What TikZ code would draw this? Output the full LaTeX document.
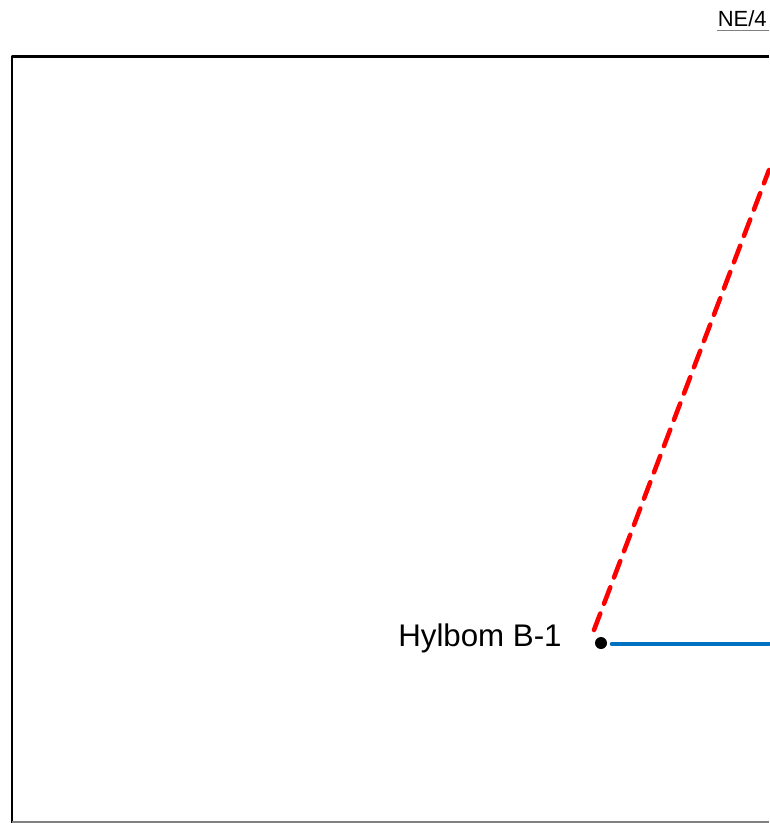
\documentclass[tikz,border=0pt]{standalone}
\usepackage{fontspec}
\setmainfont{Liberation Sans}
\usetikzlibrary{arrows.meta,calc}
\definecolor{boreblue}{HTML}{0070C0}
\tikzset{
  every picture/.style={line join=round, >=Stealth},
  frameline/.style={line width=1.7pt, black},
  redtrace/.style={red, line width=2.6pt, dash pattern=on 10pt off 6pt, line cap=round},
  bluetrace/.style={boreblue, line width=2.6pt, line cap=round},
}

\begin{document}
\begin{tikzpicture}[x=0.02cm,y=-0.02cm]
\useasboundingbox(0,0)rectangle(769,823);
\draw[frameline](12,823)--(12,56)--(769,56);
\draw[gray,line width=0.6pt](12,822)--(769,822);
\node[anchor=base east,inner sep=0pt,font=\fontsize{12.5}{14}\selectfont](sheet)at(767,26){NE/4};
\draw[gray,line width=0.7pt](sheet.south west)++(0,4)coordinate(ul)--(ul-|769,0);
\coordinate(b1)at(601,643);
\coordinate(redend)at(769,170);
\coordinate(blueend)at(769,644);
\fill(b1)circle(6);
\node[anchor=base east,inner sep=0pt,font=\fontsize{17.8}{20}\selectfont](hyl)at(562,646){Hylbom B-1};
\draw[redtrace]($(b1)+(-7,-13)$)--(redend);
\draw[bluetrace]($(b1)+(11,1)$)--(blueend);
\end{tikzpicture}
\end{document}
